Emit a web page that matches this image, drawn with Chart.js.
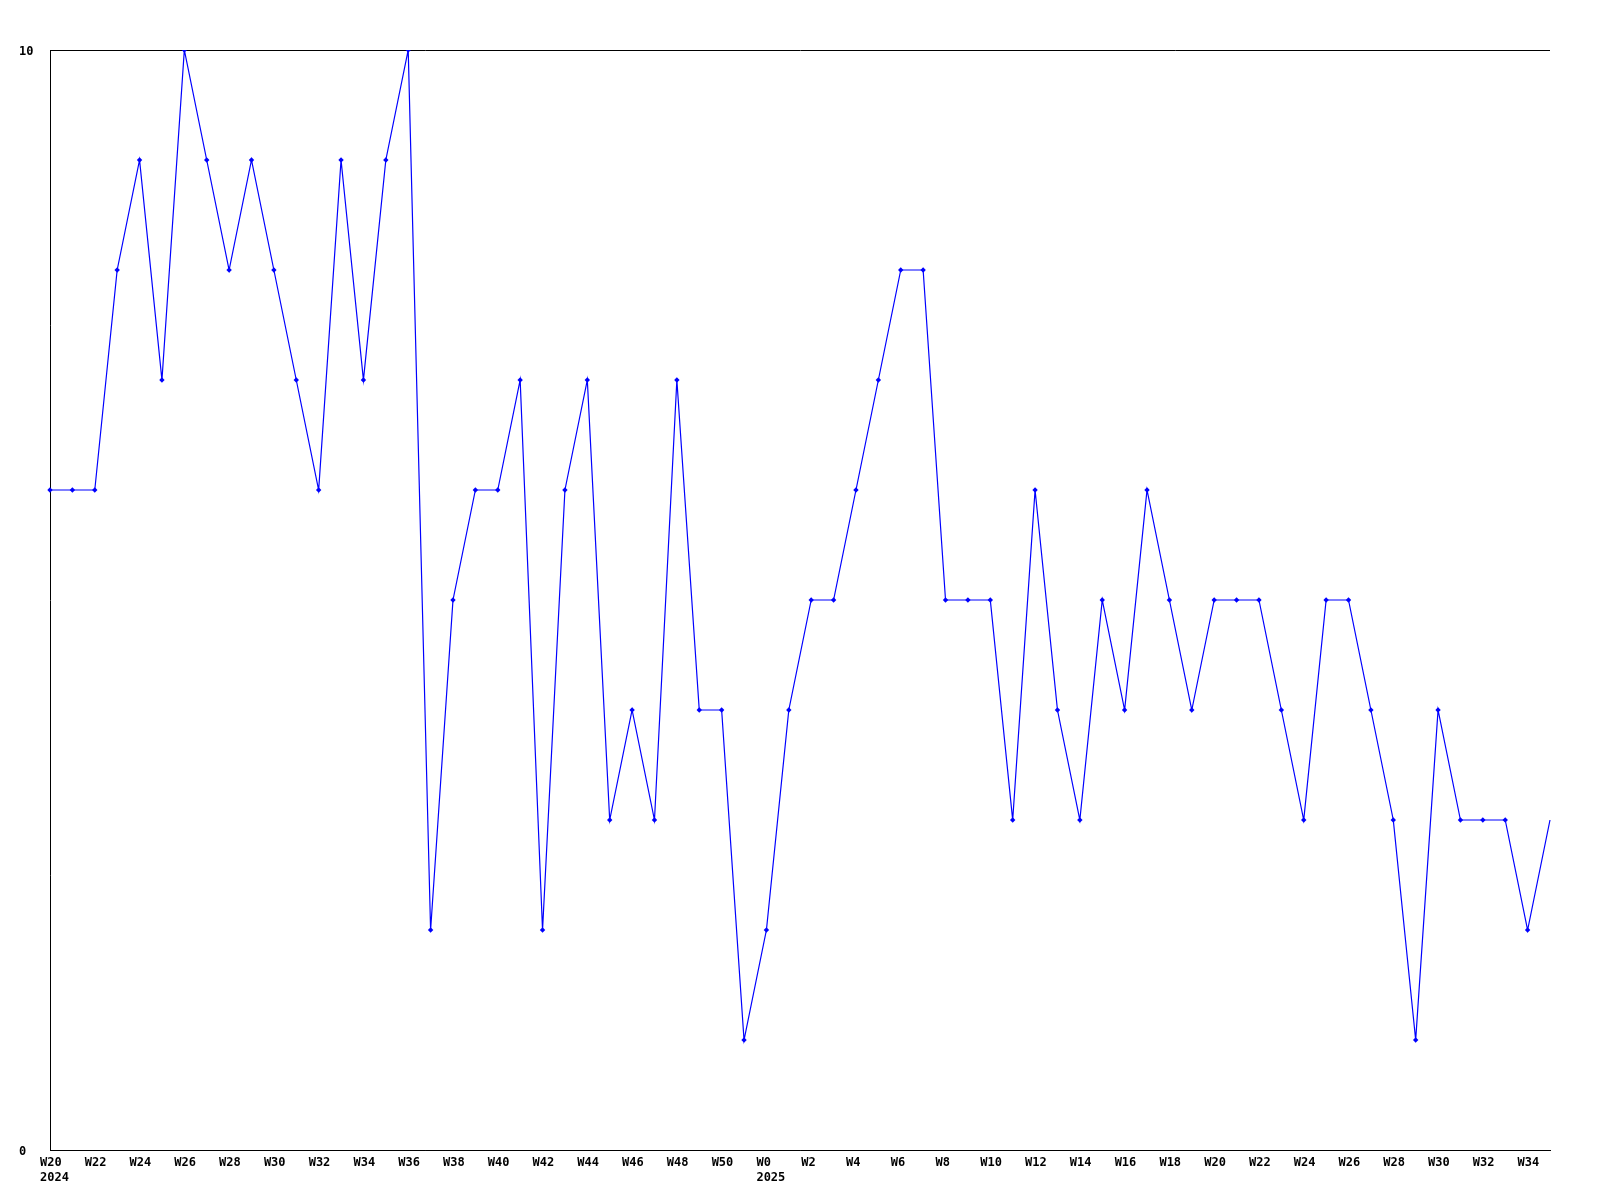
<!DOCTYPE html>
<html>
<head>
<meta charset="utf-8">
<script src="https://cdn.jsdelivr.net/npm/chart.js@4/dist/chart.umd.min.js"></script>
<style>html,body{margin:0;padding:0;background:#fff;}canvas{display:block;}</style>
</head>
<body>
<canvas id="c" width="1600" height="1200"></canvas>
<script>
const weeks2024 = ["W20","W21","W22","W23","W24","W25","W26","W27","W28","W29","W30","W31","W32","W33","W34","W35","W36","W37","W38","W39","W40","W41","W42","W43","W44","W45","W46","W47","W48","W49","W50","W51"];
const weeks2025 = ["W0","W1","W2","W3","W4","W5","W6","W7","W8","W9","W10","W11","W12","W13","W14","W15","W16","W17","W18","W19","W20","W21","W22","W23","W24","W25","W26","W27","W28","W29","W30","W31","W32","W33","W34","W35"];
const yearLabels = {0: "2024", 32: "2025"};
const values2024 = [6,6,6,8,9,7,10,9,8,9,8,7,6,9,7,9,10,2,5,6,6,7,2,6,7,3,4,3,7,4,4,1];
const values2025 = [2,4,5,5,6,7,8,8,5,5,5,3,6,4,3,5,4,6,5,4,5,5,5,4,3,5,5,4,3,1,4,3,3,3,2,3];
const yTicks = [0, 10];

const labels = weeks2024.concat(weeks2025);
const values = values2024.concat(values2025);
const FONT = {family: "'DejaVu Sans Mono', monospace", size: 12, weight: 'bold', lineHeight: 1.2};

new Chart(document.getElementById('c'), {
  type: 'line',
  data: {
    labels: labels,
    datasets: [{
      data: values,
      borderColor: '#0000ff',
      backgroundColor: '#0000ff',
      borderWidth: 1.2,
      tension: 0,
      pointStyle: 'rectRot',
      pointRadius: (ctx) => ctx.dataIndex === values.length - 1 ? 0 : 2.7,
      pointBorderWidth: 0,
      pointBackgroundColor: '#0000ff'
    }]
  },
  options: {
    responsive: false,
    animation: false,
    layout: {padding: {left: 19, right: 50, top: 50, bottom: 0}},
    plugins: {legend: {display: false}, tooltip: {enabled: false}},
    scales: {
      x: {
        type: 'category',
        offset: false,
        grid: {display: false, drawTicks: false},
        border: {display: true, color: '#000', width: 1},
        ticks: {
          autoSkip: false,
          maxRotation: 0,
          minRotation: 0,
          align: 'start',
          labelOffset: -10,
          padding: 6,
          color: '#000',
          font: FONT,
          callback: function(v, i) {
            if (i % 2 !== 0) return null;
            const w = labels[i];
            return yearLabels[i] ? [w, yearLabels[i]] : w;
          }
        },
        afterFit: (s) => { s.height = 50; }
      },
      y: {
        min: 0,
        max: 10,
        afterBuildTicks: (s) => { s.ticks = yTicks.map(v => ({value: v})); },
        grid: {display: true, color: '#000', lineWidth: 1, drawTicks: false},
        border: {display: true, color: '#000', width: 1},
        ticks: {
          crossAlign: 'far',
          padding: 0,
          labelOffset: 2,
          color: '#000',
          font: FONT
        },
        afterFit: (s) => { s.width = 31; }
      }
    }
  }
});
</script>
</body>
</html>
